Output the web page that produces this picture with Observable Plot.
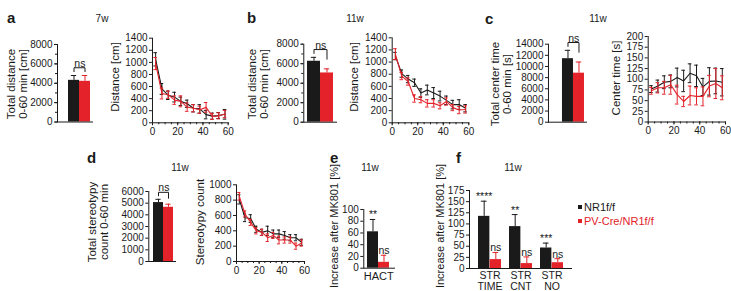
<!DOCTYPE html>
<html>
<head>
<meta charset="utf-8">
<script src="https://cdn.jsdelivr.net/npm/d3@7"></script>
<script src="https://cdn.jsdelivr.net/npm/@observablehq/plot@0.6"></script>
<style>
  body { margin: 0; background: #fff; }
  #fig { position: relative; width: 731px; height: 291px; overflow: hidden; background: #fff;
         font-family: "Liberation Sans", Arial, sans-serif; color: #1a1a1a; }
  #fig > svg { position: absolute; left: 0; top: 0; }
  .t { position: absolute; white-space: nowrap; transform: translate(-50%, -50%); line-height: 1; }
  .rot { transform: translate(-50%, -50%) rotate(-90deg); text-align: center; font-size: 11.5px; line-height: 11.5px; }
  .panel { font-weight: bold; font-size: 15px; transform: none; }
  .age { font-size: 10px; }
  .legend { position: absolute; font-size: 11px; white-space: nowrap; transform: translateY(-50%); }
  .legend span.sw { display: inline-block; width: 4px; height: 4px; margin-right: 2px; vertical-align: 2px; }
</style>
</head>
<body>
<div id="fig"></div>
<script>
// Genotypes and their colours
const groups = ["NR1f/f", "PV-Cre/NR1f/f"];
const groupColors = ["#1a1a1a", "#e3222a"];

// 5-min bins of the 60-min open-field session (bin centres, min)
const binMinutes = [2.5, 7.5, 12.5, 17.5, 22.5, 27.5, 32.5, 37.5, 42.5, 47.5, 52.5, 57.5];

// a — 7 weeks: distance travelled
const totalDistance7w = [4300, 4200];
const totalDistance7wSem = [500, 600];
const distance7wCtl = [1050, 560, 455, 425, 355, 315, 240, 230, 135, 110, 120, 140];
const distance7wCtlSem = [110, 90, 70, 80, 70, 60, 60, 70, 70, 50, 50, 80];
const distance7wKo = [980, 485, 465, 375, 355, 260, 240, 215, 255, 105, 115, 145];
const distance7wKoSem = [100, 90, 60, 70, 90, 70, 60, 60, 80, 50, 50, 60];

// b — 11 weeks: distance travelled
const totalDistance11w = [6250, 5050];
const totalDistance11wSem = [400, 420];
const distance11wCtl = [1100, 810, 720, 660, 490, 540, 490, 440, 370, 300, 300, 240];
const distance11wCtlSem = [60, 60, 60, 60, 70, 80, 90, 80, 70, 70, 80, 60];
const distance11wKo = [1130, 770, 680, 400, 380, 320, 320, 280, 350, 250, 210, 220];
const distance11wKoSem = [90, 60, 60, 60, 50, 60, 60, 50, 60, 50, 60, 60];

// c — 11 weeks: time spent in the centre
const centerTimeTotal = [11400, 8800];
const centerTimeTotalSem = [1500, 2000];
const centerTimeCtl = [77, 84, 93, 95, 104, 96, 114, 108, 82, 95, 96, 93];
const centerTimeCtlSem = [8, 14, 15, 15, 22, 25, 22, 25, 20, 32, 30, 32];
const centerTimeKo = [73, 80, 80, 87, 64, 48, 62, 60, 60, 84, 90, 80];
const centerTimeKoSem = [8, 12, 15, 22, 22, 12, 22, 20, 22, 25, 35, 28];

// d — 11 weeks: stereotypy counts
const stereotypyTotal = [5050, 4650];
const stereotypyTotalSem = [280, 260];
const stereotypyCtl = [810, 570, 560, 420, 380, 400, 360, 360, 340, 310, 310, 250];
const stereotypyCtlSem = [60, 50, 50, 40, 40, 60, 50, 50, 50, 40, 40, 40];
const stereotypyKo = [850, 620, 510, 400, 380, 310, 340, 280, 280, 280, 200, 240];
const stereotypyKoSem = [50, 40, 40, 40, 40, 50, 40, 50, 40, 40, 40, 40];

// e — MK801-induced horizontal activity
const hactIncrease = [62, 10];
const hactIncreaseSem = [21, 12];
const hactStars = ["**", "ns"];

// f — MK801-induced stereotypy
const strMeasures = ["STR TIME", "STR CNT", "STR NO"];
const strCtl = [117, 94, 46];
const strCtlSem = [34, 27, 11];
const strKo = [20, 11, 13];
const strKoSem = [16, 15, 9];
const strCtlStars = ["****", "**", "***"];
const strKoStars = ["ns", "ns", "ns"];

const ink = "#1a1a1a";
const plotStyle = {
  fontFamily: "'Liberation Sans', Arial, sans-serif",
  fontSize: "10px",
  background: "transparent",
  overflow: "visible",
  color: ink
};
const fig = document.getElementById("fig");
const plain = d => String(d);

function yAxes(yMax, step, minor) {
  const out = [Plot.axisY(d3.range(0, yMax + 1e-9, step), {tickSize: 3, tickPadding: 2, label: null, color: ink, tickFormat: plain})];
  if (minor) out.push(Plot.axisY(d3.range(0, yMax + 1e-9, minor), {tickSize: 2, label: null, stroke: ink, fill: "none"}));
  return out;
}

// Two-bar summary (mean + SEM) with a significance bracket
function barPanel(p) {
  const rows = groups.map((g, i) => ({group: g, value: p.values[i], sem: p.sems[i]}));
  const bw = (p.barsR - p.barsL) / groups.length;
  const capInset = (bw - 6) / 2;
  const marks = [
    Plot.barY(rows, {x: "group", y: "value", fill: "group"}),
    Plot.ruleX(rows, {x: "group", y1: "value", y2: d => d.value + d.sem, stroke: "group"}),
    Plot.tickY(rows, {x: "group", y: d => d.value + d.sem, stroke: "group", insetLeft: capInset, insetRight: capInset}),
    Plot.ruleY([0], {stroke: ink}),
    Plot.frame({anchor: "left", stroke: ink}),
    ...yAxes(p.yMax, p.step, p.minor)
  ];
  if (p.label) {
    const caps = rows.map(d => d.value + d.sem);
    const top = Math.max(...caps) + p.yMax * 0.1;
    const bracket = [
      {group: groups[0], y: (top + caps[0]) / 2},
      {group: groups[0], y: top},
      {group: groups[1], y: top},
      {group: groups[1], y: (top + caps[1]) / 2}
    ];
    marks.push(Plot.line(bracket, {x: "group", y: "y", stroke: ink, strokeWidth: 1}));
    marks.push(Plot.text([p.label], {x: () => groups[0], y: () => top, dx: bw / 2, dy: -1, lineAnchor: "bottom", fontSize: 10.5, fill: ink}));
  }
  if (p.stars) {
    marks.push(Plot.text(rows, {x: "group", y: d => d.value + d.sem, text: (d, i) => p.stars[i], lineAnchor: "bottom", dy: -1, fontSize: 10.5, fill: ink}));
  }
  if (p.category) {
    marks.push(Plot.text([p.category], {x: () => groups[0], dx: bw / 2, frameAnchor: "bottom", lineAnchor: "top", dy: 4, fontSize: 11, fill: ink}));
  }
  return Plot.plot({
    width: p.baseR, height: p.yZero + 24,
    marginLeft: p.axisX, marginRight: 0, marginTop: p.yTop, marginBottom: 24,
    x: {type: "band", domain: groups, range: [p.barsL, p.barsR], padding: 0, axis: null},
    y: {domain: [0, p.yMax]},
    color: {domain: groups, range: groupColors},
    style: plotStyle,
    marks
  });
}

// Time course over 5-min bins, mean ± SEM for both genotypes
function linePanel(p) {
  const capHalf = 1.4;
  const marks = [];
  p.series.forEach(([vals, sems], gi) => {
    const rows = vals.map((v, i) => ({t: binMinutes[i], value: v, sem: sems[i]}));
    const c = groupColors[gi];
    marks.push(
      Plot.ruleX(rows, {x: "t", y1: d => d.value - d.sem, y2: d => d.value + d.sem, stroke: c}),
      Plot.ruleY(rows, {y: d => d.value + d.sem, x1: d => d.t - capHalf, x2: d => d.t + capHalf, stroke: c}),
      Plot.ruleY(rows, {y: d => d.value - d.sem, x1: d => d.t - capHalf, x2: d => d.t + capHalf, stroke: c}),
      Plot.line(rows, {x: "t", y: "value", stroke: c, strokeWidth: 1.1})
    );
  });
  marks.push(
    Plot.ruleX([0], {stroke: ink}),
    Plot.ruleY([0], {stroke: ink}),
    ...yAxes(p.yMax, p.step, null),
    Plot.axisX([0, 20, 40, 60], {tickSize: 3, tickPadding: 2, label: null, color: ink}),
    Plot.axisX(d3.range(0, 61, 5), {tickSize: 2, label: null, stroke: ink, fill: "none"})
  );
  return Plot.plot({
    width: p.x60, height: p.yZero + 24,
    marginLeft: p.x0, marginRight: 0, marginTop: p.yTop, marginBottom: 24,
    x: {domain: [0, 60]},
    y: {domain: [0, p.yMax]},
    style: plotStyle,
    marks
  });
}

// Grouped MK801 stereotypy bars (three measures)
function strPanel(p) {
  const rows = strMeasures.map((m, i) => ({m, ctl: strCtl[i], ctlSem: strCtlSem[i], ko: strKo[i], koSem: strKoSem[i],
                                            ctlStar: strCtlStars[i], koStar: strKoStars[i]}));
  const n = strMeasures.length;
  const step = (p.barsR - p.barsL) / (n - p.gap);
  const half = step * (1 - p.gap) / 2;
  const capW = 6;
  const ctlX = -half / 2, koX = half / 2;
  return Plot.plot({
    width: p.baseR, height: p.yZero + 24,
    marginLeft: p.axisX, marginRight: 0, marginTop: p.yTop, marginBottom: 24,
    x: {type: "band", domain: strMeasures, range: [p.barsL, p.barsR], paddingInner: p.gap, paddingOuter: 0},
    y: {domain: [0, p.yMax]},
    style: plotStyle,
    marks: [
      Plot.barY(rows, {x: "m", y: "ctl", fill: groupColors[0], insetRight: half}),
      Plot.barY(rows, {x: "m", y: "ko", fill: groupColors[1], insetLeft: half}),
      Plot.ruleX(rows, {x: "m", y1: "ctl", y2: d => d.ctl + d.ctlSem, dx: ctlX, stroke: groupColors[0]}),
      Plot.ruleX(rows, {x: "m", y1: "ko", y2: d => d.ko + d.koSem, dx: koX, stroke: groupColors[1]}),
      Plot.tickY(rows, {x: "m", y: d => d.ctl + d.ctlSem, stroke: groupColors[0],
                        insetLeft: half / 2 - capW / 2, insetRight: 1.5 * half - capW / 2}),
      Plot.tickY(rows, {x: "m", y: d => d.ko + d.koSem, stroke: groupColors[1],
                        insetLeft: 1.5 * half - capW / 2, insetRight: half / 2 - capW / 2}),
      Plot.text(rows, {x: "m", y: d => d.ctl + d.ctlSem, dx: ctlX, dy: -1, text: "ctlStar", lineAnchor: "bottom", fontSize: 10.5, fill: ink}),
      Plot.text(rows, {x: "m", y: d => d.ko + d.koSem, dx: koX, dy: -1, text: "koStar", lineAnchor: "bottom", fontSize: 10.5, fill: ink}),
      Plot.ruleY([0], {stroke: ink}),
      Plot.frame({anchor: "left", stroke: ink}),
      ...yAxes(p.yMax, p.step, null),
      Plot.axisX({tickSize: 0, tickPadding: 3, label: null, fontSize: 10.5, lineHeight: 1.05, color: ink,
                  tickFormat: d => d.replace(" ", "\n")})
    ]
  });
}

const plots = [
  barPanel({values: totalDistance7w, sems: totalDistance7wSem, axisX: 57, barsL: 67, barsR: 90.4, baseR: 93,
            yTop: 44, yZero: 121.5, yMax: 8000, step: 2000, minor: 1000, label: "ns"}),
  linePanel({series: [[distance7wCtl, distance7wCtlSem], [distance7wKo, distance7wKoSem]],
             x0: 152, x60: 227.7, yTop: 37.7, yZero: 122.3, yMax: 1400, step: 200}),
  barPanel({values: totalDistance11w, sems: totalDistance11wSem, axisX: 303.3, barsL: 306.7, barsR: 334, baseR: 337,
            yTop: 43.7, yZero: 121.7, yMax: 8000, step: 2000, minor: 1000, label: "ns"}),
  linePanel({series: [[distance11wCtl, distance11wCtlSem], [distance11wKo, distance11wKoSem]],
             x0: 391.7, x60: 468.3, yTop: 37.3, yZero: 122.3, yMax: 1400, step: 200}),
  barPanel({values: centerTimeTotal, sems: centerTimeTotalSem, axisX: 548, barsL: 561.7, barsR: 585, baseR: 587,
            yTop: 43.7, yZero: 121.7, yMax: 14000, step: 2000, minor: null, label: "ns"}),
  linePanel({series: [[centerTimeCtl, centerTimeCtlSem], [centerTimeKo, centerTimeKoSem]],
             x0: 647.7, x60: 725, yTop: 36, yZero: 121.5, yMax: 200, step: 25}),
  barPanel({values: stereotypyTotal, sems: stereotypyTotalSem, axisX: 148.3, barsL: 151.7, barsR: 173.3, baseR: 176,
            yTop: 191, yZero: 261, yMax: 6000, step: 1000, minor: null, label: "ns"}),
  linePanel({series: [[stereotypyCtl, stereotypyCtlSem], [stereotypyKo, stereotypyKoSem]],
             x0: 236, x60: 304, yTop: 184.3, yZero: 261, yMax: 1000, step: 200}),
  barPanel({values: hactIncrease, sems: hactIncreaseSem, axisX: 363.3, barsL: 366.7, barsR: 390, baseR: 395,
            yTop: 209, yZero: 267.7, yMax: 100, step: 20, minor: null, stars: hactStars, category: "HACT"}),
  strPanel({axisX: 469, barsL: 477, barsR: 564, baseR: 572, yTop: 190, yZero: 268, yMax: 175, step: 25, gap: 0.27})
];
plots.forEach(svg => fig.appendChild(svg));

// Text annotations: panel letters, ages, axis titles, legend
function addText(html, cls, x, y, extra) {
  const el = document.createElement("div");
  el.className = "t " + cls;
  el.innerHTML = html;
  el.style.left = x + "px";
  el.style.top = y + "px";
  if (extra) Object.assign(el.style, extra);
  fig.appendChild(el);
}
[["a", 7, 10], ["b", 247, 10], ["c", 485, 11], ["d", 87, 150], ["e", 330, 150], ["f", 456, 150]]
  .forEach(([s, x, y]) => addText(s, "panel", x, y));
[["7w", 102, 19], ["11w", 355, 19], ["11w", 598, 19], ["11w", 180, 168], ["11w", 370, 168], ["11w", 513, 168]]
  .forEach(([s, x, y]) => addText(s, "age", x, y));
[
  ["Total distance<br>0-60 min [cm]", 16.5, 84],
  ["Distance [cm]", 116, 77],
  ["Total distance<br>0-60 min [cm]", 258, 84],
  ["Distance [cm]", 355, 77],
  ["Total center time<br>0-60 min [s]", 501, 84],
  ["Center time [s]", 617, 78],
  ["Total stereotypy<br>count 0-60 min", 97.5, 222],
  ["Stereotypy count", 201, 222],
  ["Increase after MK801 [%]", 335, 226],
  ["Increase after MK801 [%]", 441, 226]
].forEach(([s, x, y]) => addText(s, "rot", x, y, s.startsWith("Increase") ? {fontSize: "11px"} : null));

groups.forEach((g, i) => {
  const el = document.createElement("div");
  el.className = "legend";
  el.style.left = "578px";
  el.style.top = (207 + i * 14) + "px";
  el.style.color = groupColors[i];
  el.innerHTML = `<span class="sw" style="background:${groupColors[i]}"></span>${g}`;
  fig.appendChild(el);
});
</script>
</body>
</html>
